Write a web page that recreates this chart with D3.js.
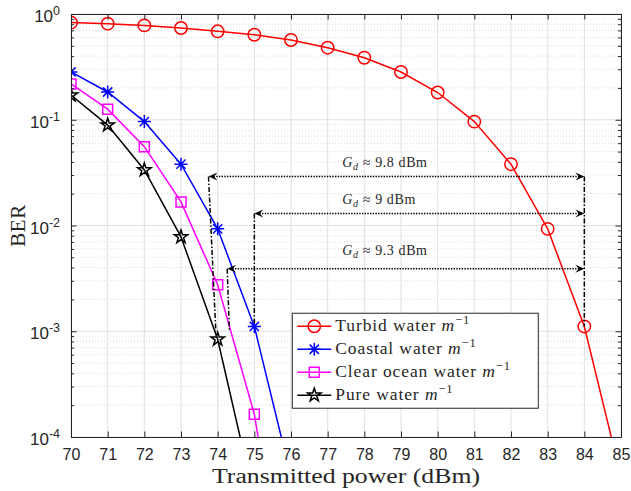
<!DOCTYPE html>
<html>
<head>
<meta charset="utf-8">
<script src="https://cdn.jsdelivr.net/npm/d3@7"></script>
<style>
  body { margin: 0; background: #fff; }
</style>
</head>
<body>
<div id="grafica"></div>
<script>
// data
var power = [70, 71, 72, 73, 74, 75, 76, 77, 78, 79, 80, 81, 82, 83, 84, 85];
var turbid = [0.83, 0.81, 0.78, 0.737, 0.686, 0.637, 0.568, 0.48, 0.386, 0.283, 0.181, 0.096, 0.038, 0.0093, 0.00111, 4.2e-5];
var coastal = [0.283, 0.183, 0.096, 0.038, 0.0093, 0.00111, 4.2e-5];
var clearOcean = [0.218, 0.126, 0.0556, 0.0167, 0.00275, 0.000164, 1.3e-6];
var pure = [0.171, 0.089, 0.0335, 0.0078, 0.00084, 2.6e-5];

var xTicks = [70, 71, 72, 73, 74, 75, 76, 77, 78, 79, 80, 81, 82, 83, 84, 85];
var yTicks = [1e-4, 1e-3, 1e-2, 1e-1, 1];
var yTickExp = ["-4", "-3", "-2", "-1", "0"];

// gain annotations (data coordinates)
var gainLabels = ["9.8", "9", "9.3"];
var gainArrowY = [0.029, 0.013, 0.0039];
var gainArrowX0 = [73.75, 75, 74.26];
var gainArrowX1 = [84, 84, 84];
var gainTextX = [77.4, 77.4, 77.4];
var gainTextY = [0.0357, 0.016, 0.00526];
// dash-dot drop lines: [x top, y top, x bottom, y bottom]
var dropLines = [
  [73.75, 0.029, 73.95, 0.001],
  [75, 0.013, 75, 0.00114],
  [74.26, 0.0039, 74.32, 0.001],
  [84, 0.029, 84, 0.00111]
];

var series = [
  {name: "Turbid water", values: turbid, color: "#ff0000", marker: "circle"},
  {name: "Coastal water", values: coastal, color: "#0000ff", marker: "asterisk"},
  {name: "Clear ocean water", values: clearOcean, color: "#ff00ff", marker: "square"},
  {name: "Pure water", values: pure, color: "#000000", marker: "star"}
];

// set the dimensions and margins of the graph
var margin = {top: 14, right: 10, bottom: 54, left: 71},
    width = 631 - margin.left - margin.right,
    height = 491 - margin.top - margin.bottom;

var svgRoot = d3.select("#grafica")
  .append("svg")
  .attr("width", width + margin.left + margin.right)
  .attr("height", height + margin.top + margin.bottom);

var svg = svgRoot.append("g")
  .attr("transform", `translate(${margin.left},${margin.top})`);

var x = d3.scaleLinear().domain([70, 85]).range([0, width]);
var y = d3.scaleLog().domain([1e-4, 1]).range([height, 0]);

var minorY = y.ticks().filter(function(v) {
  return Math.abs(Math.log10(v) - Math.round(Math.log10(v))) > 1e-6;
});

svg.append("defs").append("clipPath").attr("id", "clip")
  .append("rect").attr("width", width).attr("height", height);

// grid
var grid = svg.append("g");
grid.selectAll(".minor").data(minorY).enter().append("line")
  .attr("x1", 0).attr("x2", width)
  .attr("y1", function(d) { return y(d); }).attr("y2", function(d) { return y(d); })
  .attr("stroke", "#cfcfcf").attr("stroke-width", 0.8)
  .attr("stroke-dasharray", "1,2");
grid.selectAll(".vx").data(xTicks).enter().append("line")
  .attr("x1", function(d) { return x(d); }).attr("x2", function(d) { return x(d); })
  .attr("y1", 0).attr("y2", height)
  .attr("stroke", "#e0e0e0").attr("stroke-width", 1);
grid.selectAll(".hy").data(yTicks).enter().append("line")
  .attr("x1", 0).attr("x2", width)
  .attr("y1", function(d) { return y(d); }).attr("y2", function(d) { return y(d); })
  .attr("stroke", "#e0e0e0").attr("stroke-width", 1);

// marker shapes
function markerPath(type) {
  if (type == "circle") {
    var r = 6.2;
    return `M${r},0A${r},${r} 0 1,1 ${-r},0A${r},${r} 0 1,1 ${r},0Z`;
  }
  if (type == "square") {
    var s = 5;
    return `M${-s},${-s}H${s}V${s}H${-s}Z`;
  }
  if (type == "asterisk") {
    var a = 6.5, b = 4.6;
    return `M${-a},0H${a}M0,${-a}V${a}M${-b},${-b}L${b},${b}M${-b},${b}L${b},${-b}`;
  }
  // pentagram
  var ro = 7, ri = ro * 0.382, p = [];
  for (var i = 0; i < 10; i++) {
    var rr = i % 2 == 0 ? ro : ri;
    var ang = -Math.PI / 2 + i * Math.PI / 5;
    p.push([rr * Math.cos(ang), rr * Math.sin(ang)]);
  }
  return "M" + p.map(function(q) { return q[0].toFixed(2) + "," + q[1].toFixed(2); }).join("L") + "Z";
}

// lines + markers
var plot = svg.append("g").attr("clip-path", "url(#clip)");
series.forEach(function(s) {
  var pts = s.values.map(function(v, i) { return {x: power[i], y: v}; });
  plot.append("path")
    .datum(pts)
    .attr("fill", "none")
    .attr("stroke", s.color)
    .attr("stroke-width", 1.5)
    .attr("d", d3.line()
      .x(function(d) { return x(d.x); })
      .y(function(d) { return y(d.y); }));
  plot.selectAll(null).data(pts).enter().append("path")
    .attr("transform", function(d) { return `translate(${x(d.x)},${y(d.y)})`; })
    .attr("d", markerPath(s.marker))
    .attr("fill", "none")
    .attr("stroke", s.color)
    .attr("stroke-width", 1.5);
});

// annotations
var ann = svg.append("g");
dropLines.forEach(function(l) {
  ann.append("line")
    .attr("x1", x(l[0])).attr("y1", y(l[1]))
    .attr("x2", x(l[2])).attr("y2", y(l[3]))
    .attr("stroke", "#000").attr("stroke-width", 1.5)
    .attr("stroke-dasharray", "5,2,1.5,2");
});

function arrowHead(g, px, py, dir) {
  // dir = 1 points right, -1 points left
  var L = 9, w = 4, n = 5.5;
  g.append("path")
    .attr("d", `M${px},${py}L${px - dir * L},${py - w}L${px - dir * n},${py}L${px - dir * L},${py + w}Z`)
    .attr("fill", "#000");
}

gainLabels.forEach(function(lab, i) {
  var yy = y(gainArrowY[i]);
  ann.append("line")
    .attr("x1", x(gainArrowX0[i]) + 5).attr("x2", x(gainArrowX1[i]) - 5)
    .attr("y1", yy).attr("y2", yy)
    .attr("stroke", "#000").attr("stroke-width", 1.5)
    .attr("stroke-dasharray", "1.4,1.3");
  arrowHead(ann, x(gainArrowX0[i]), yy, -1);
  arrowHead(ann, x(gainArrowX1[i]), yy, 1);

  var t = ann.append("text")
    .attr("x", x(gainTextX[i]))
    .attr("y", y(gainTextY[i]))
    .style("font-family", "'Liberation Serif', serif")
    .style("font-size", "14px")
    .style("letter-spacing", "0.6px")
    .attr("fill", "#262626");
  t.append("tspan").style("font-style", "italic").text("G");
  t.append("tspan").style("font-style", "italic").style("font-size", "10px").attr("dy", 3).text("d");
  t.append("tspan").attr("dy", -3).text(" \u2248 " + lab + " dBm");
});

// axes box with inward ticks
function styleAxis(g) {
  g.attr("color", "#262626");
  g.selectAll("path").attr("stroke-width", 1);
  g.selectAll("line").attr("stroke-width", 1);
}

var xb = svg.append("g")
  .attr("transform", `translate(0,${height})`)
  .call(d3.axisBottom(x).tickValues(xTicks).tickSizeInner(-5.5).tickSizeOuter(0).tickPadding(12.1).tickFormat(d3.format("d")));
xb.selectAll("text")
  .style("font-family", "'Liberation Sans', Arial, sans-serif")
  .style("font-size", "16px")
  .attr("fill", "#262626");
styleAxis(xb);

styleAxis(svg.append("g")
  .call(d3.axisTop(x).tickValues(xTicks).tickSizeInner(-5.5).tickSizeOuter(0).tickFormat("")));

styleAxis(svg.append("g")
  .call(d3.axisLeft(y).tickValues(yTicks).tickSizeInner(-5.5).tickSizeOuter(0).tickFormat("")));
styleAxis(svg.append("g")
  .call(d3.axisLeft(y).tickValues(minorY).tickSizeInner(-3).tickSizeOuter(0).tickFormat("")));
styleAxis(svg.append("g")
  .attr("transform", `translate(${width},0)`)
  .call(d3.axisRight(y).tickValues(yTicks).tickSizeInner(-5.5).tickSizeOuter(0).tickFormat("")));
styleAxis(svg.append("g")
  .attr("transform", `translate(${width},0)`)
  .call(d3.axisRight(y).tickValues(minorY).tickSizeInner(-3).tickSizeOuter(0).tickFormat("")));

// y tick labels 10^k
yTicks.forEach(function(v, i) {
  var t = svg.append("text")
    .attr("x", -11)
    .attr("y", y(v) + 8)
    .attr("text-anchor", "end")
    .style("font-family", "'Liberation Sans', Arial, sans-serif")
    .style("font-size", "17px")
    .attr("fill", "#262626");
  t.append("tspan").text("10");
  t.append("tspan").attr("dy", -7).style("font-size", "12.5px").text(yTickExp[i]);
});

// axis titles
svg.append("text")
  .attr("x", width / 2)
  .attr("y", height + 46)
  .attr("text-anchor", "middle")
  .attr("textLength", 268)
  .attr("lengthAdjust", "spacingAndGlyphs")
  .style("font-family", "'Liberation Serif', serif")
  .style("font-size", "20.5px")
  .attr("fill", "#262626")
  .text("Transmitted power (dBm)");

svg.append("text")
  .attr("transform", `translate(-46,${height / 2}) rotate(-90)`)
  .attr("text-anchor", "middle")
  .style("font-family", "'Liberation Serif', serif")
  .style("font-size", "21px")
  .style("letter-spacing", "0.5px")
  .attr("fill", "#262626")
  .text("BER");

// legend
var legend = svg.append("g").attr("transform", `translate(${x(76.035)},${y(0.00148)})`);
legend.append("rect")
  .attr("width", 246).attr("height", 95)
  .attr("fill", "#fff").attr("stroke", "#262626").attr("stroke-width", 1);
series.forEach(function(s, i) {
  var g = legend.append("g").attr("transform", `translate(0,${13 + i * 23})`);
  g.append("line").attr("x1", 5).attr("x2", 39).attr("y1", 0).attr("y2", 0)
    .attr("stroke", s.color).attr("stroke-width", 1.5);
  g.append("path").attr("transform", "translate(22,0)")
    .attr("d", markerPath(s.marker))
    .attr("fill", "none").attr("stroke", s.color).attr("stroke-width", 1.5);
  var t = g.append("text").attr("x", 43).attr("y", 5)
    .style("font-family", "'Liberation Serif', serif")
    .style("font-size", "17.5px")
    .style("letter-spacing", "0.9px")
    .attr("fill", "#262626");
  t.append("tspan").text(s.name + " ");
  t.append("tspan").style("font-style", "italic").text("m");
  t.append("tspan").attr("dy", -7).style("font-size", "12.5px").text("\u22121");
});
</script>
</body>
</html>
